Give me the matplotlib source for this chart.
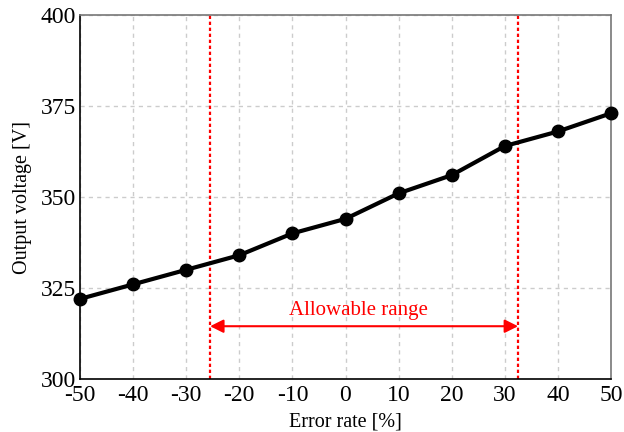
import matplotlib
matplotlib.use("Agg")
import matplotlib.pyplot as plt

error_rate = [-50, -40, -30, -20, -10, 0, 10, 20, 30, 40, 50]
output_voltage = [322, 326, 330, 334, 340, 344, 351, 356, 364, 368, 373]
range_limits = [-25.5, 32.5]
x_ticks = [-50, -40, -30, -20, -10, 0, 10, 20, 30, 40, 50]
y_ticks = [300, 325, 350, 375, 400]
arrow_y = 314.5
label_x = 2.5
label_y = 316.3

plt.rcParams['font.family'] = ['Liberation Serif', 'DejaVu Serif']
plt.rcParams['axes.unicode_minus'] = False

fig = plt.figure(figsize=(6.24, 4.32), dpi=100)
ax = fig.add_axes([80/624, 1-379/432, (611-80)/624, (379-15)/432])

ax.grid(True, color='#cccccc', linestyle=(0, (3, 3)), linewidth=1.0)
ax.set_axisbelow(True)

ax.plot(error_rate, output_voltage, color='black', linewidth=3, marker='o',
        markersize=9, zorder=3, clip_on=False)

for xv in range_limits:
    ax.axvline(xv, color='red', linestyle=(0, (1.5, 1.2)), linewidth=1.6, zorder=2)

ax.annotate('', xy=(range_limits[0], arrow_y), xytext=(range_limits[1], arrow_y),
            arrowprops=dict(arrowstyle='<|-|>', color='red', lw=1.5,
                            mutation_scale=20, shrinkA=0, shrinkB=0))
ax.text(label_x, label_y, 'Allowable range', color='red',
        fontsize=15, ha='center', va='bottom')

ax.set_xlim(-50, 50)
ax.set_ylim(300, 400)
ax.set_xticks(x_ticks)
ax.set_yticks(y_ticks)
ax.tick_params(axis='both', length=0, labelsize=17)
ax.tick_params(axis='x', pad=4)
ax.tick_params(axis='y', pad=3)
ax.set_xlabel('Error rate [%]', fontsize=14.5, labelpad=5)
ax.set_ylabel('Output voltage [V]', fontsize=14.5, labelpad=6)

for s in ['top', 'right']:
    ax.spines[s].set_color('#777777')
for s in ['left', 'bottom']:
    ax.spines[s].set_color('black')
for s in ax.spines.values():
    s.set_linewidth(1.2)

fig.savefig('out.png', dpi=100)
